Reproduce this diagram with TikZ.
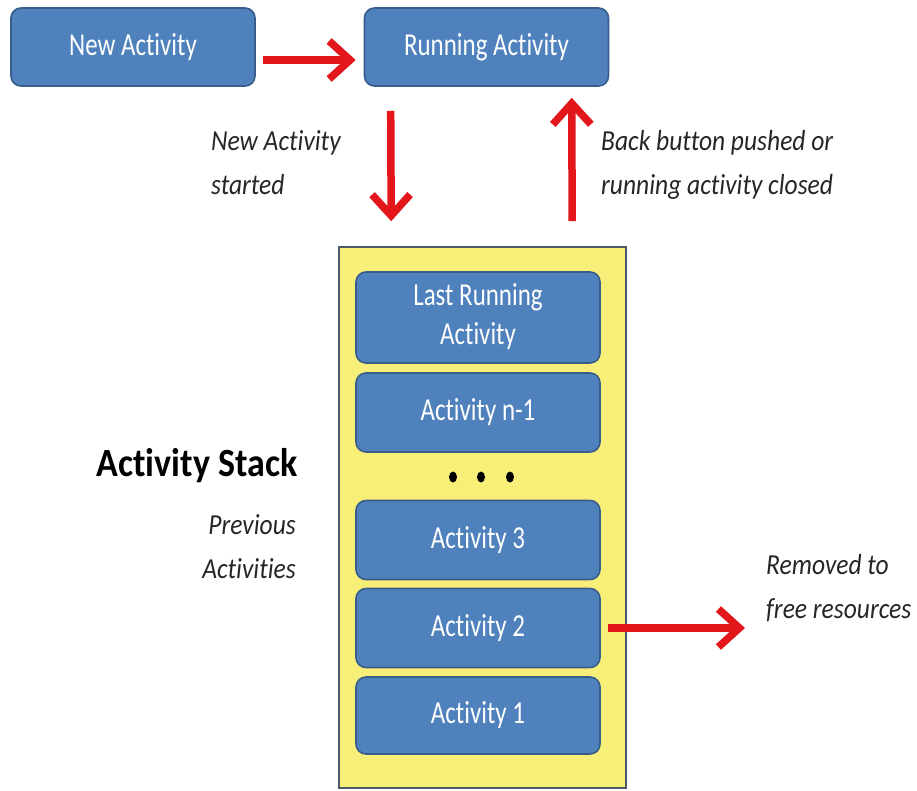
\documentclass[tikz,border=0pt]{standalone}
\usepackage{fontspec}
\setmainfont[Ligatures=NoCommon]{Carlito}
\usepackage{graphicx}
\usetikzlibrary{arrows.meta}

\definecolor{boxblue}{HTML}{4F81BD}
\definecolor{boxedge}{HTML}{385D8A}
\definecolor{stackyellow}{HTML}{F8EF78}
\definecolor{stackedge}{HTML}{4D5A66}
\definecolor{flowred}{HTML}{E3161B}
\definecolor{labelgray}{HTML}{262626}

% condensed lettering
\newcommand{\nar}[2][0.78]{\scalebox{#1}[1]{#2}}

\begin{document}
\begin{tikzpicture}[x=1pt,y=-1pt,
  actbox/.style={draw=boxedge, line width=1.6pt, fill=boxblue,
    rounded corners=10pt, minimum width=244pt, inner sep=0pt,
    text=white, font=\fontsize{32}{39}\selectfont},
  note/.style={inner sep=0pt, text=labelgray,
    font=\fontsize{29}{44}\selectfont\itshape},
  flow/.style={draw=flowred, line width=7.5pt,
    -{Straight Barb[length=21pt,width=38pt]}}]

\useasboundingbox (0,0) rectangle (917,790);
\fill[white] (0,0) rectangle (917,790);

% top row
\node[actbox, minimum height=78pt] (na) at (133,47) {\nar{New Activity}};
\node[actbox, minimum height=78pt] (ra) at (486.5,47) {\nar{Running Activity}};

% the stack
\node[draw=stackedge, line width=1.6pt, fill=stackyellow, inner sep=0pt,
  minimum width=287pt, minimum height=541pt] (stack) at (482.5,517.5) {};

\node[actbox, minimum height=91pt] (last) at (478,317.5)
  {\nar{\begin{tabular}{@{}c@{}}Last Running\\Activity\end{tabular}}};
\node[actbox, minimum height=79pt] (an1) at (478,412.5) {\nar{Activity n-1}};
\node[actbox, minimum height=79pt] (a3) at (478,540) {\nar{Activity 3}};
\node[actbox, minimum height=79pt] (a2) at (478,628) {\nar{Activity 2}};
\node[actbox, minimum height=77pt] (a1) at (478,715.5) {\nar{Activity 1}};

% ellipsis between the boxes
\foreach \dx in {453,481,510}
  \fill[black] (\dx,477) ellipse (4 and 5.5);

% labels
\node[note, anchor=west] (started) at (211,164)
  {\nar[0.88]{\begin{tabular}{@{}l@{}}New Activity\\started\end{tabular}}};
\node[note, anchor=west] (back) at (601,163.5)
  {\nar[0.88]{\begin{tabular}{@{}l@{}}Back button pushed or\\running activity closed\end{tabular}}};
\node[inner sep=0pt, text=black, font=\fontsize{40}{48}\selectfont\bfseries]
  (title) at (197,466) {\nar[0.9]{Activity Stack}};
\node[note, anchor=east] (prev) at (296,547.5)
  {\nar[0.88]{\begin{tabular}{@{}r@{}}Previous\\Activities\end{tabular}}};
\node[note, anchor=west] (removed) at (766,588)
  {\nar[0.88]{\begin{tabular}{@{}l@{}}Removed to\\free resources\end{tabular}}};

% transitions
\coordinate (freed) at (745,628);
\draw[flow] ([xshift=7pt,yshift=-13pt]na.east) -- ([xshift=-8pt,yshift=-13pt]ra.west);
\draw[flow] ([xshift=27pt,yshift=-24pt]ra.south west) -- ([xshift=53pt,yshift=25pt]stack.north west);
\draw[flow] ([xshift=234pt,yshift=25pt]stack.north west) -- ([xshift=208pt,yshift=-11pt]ra.south west);
\draw[flow] ([xshift=7pt]a2.east) -- (freed);
\end{tikzpicture}
\end{document}
